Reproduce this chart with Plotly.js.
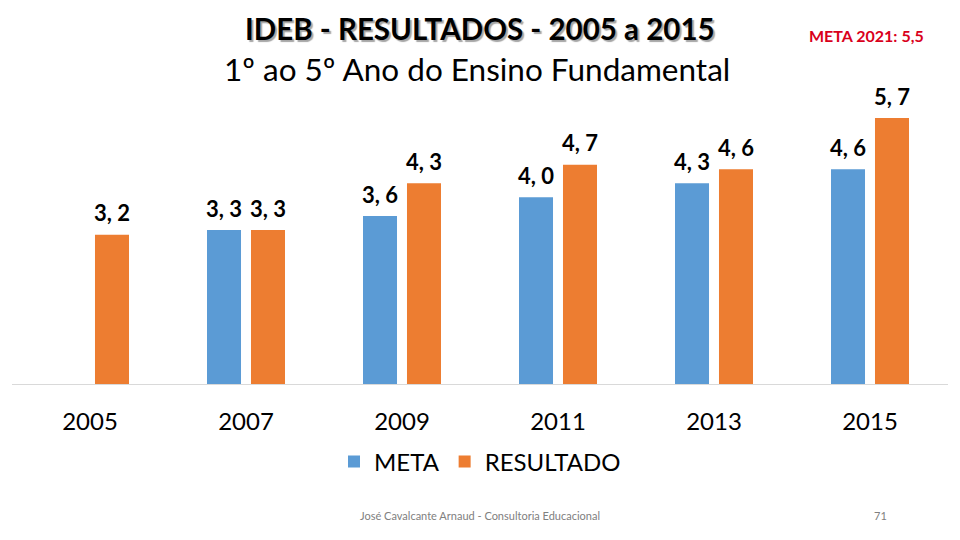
<!DOCTYPE html>
<html>
<head>
<meta charset="utf-8">
<script src="https://cdn.plot.ly/plotly-3.0.1.min.js"></script>
<style>html,body{margin:0;padding:0;background:#fff;}#chart{width:960px;height:540px;}</style>
</head>
<body>
<div id="chart"></div>
<script>
const years = ['2005', '2007', '2009', '2011', '2013', '2015'];
const meta = [null, 3.3, 3.6, 4.0, 4.3, 4.6];
const resultado = [3.2, 3.3, 4.3, 4.7, 4.6, 5.7];
const seriesNames = ['META', 'RESULTADO'];
const titleText = 'IDEB - RESULTADOS - 2005 a 2015';
const subtitleText = '1º ao 5º Ano do Ensino Fundamental';
const noteText = 'META 2021: 5,5';
const footerText = 'José Cavalcante Arnaud - Consultoria Educacional';
const pageText = '71';

const BLUE = '#5B9BD5', ORANGE = '#ED7D31';
const FONT = 'Lato, "Open Sans", sans-serif';
const fmt = v => v.toFixed(1).replace('.', ', ');

const M = {l: 12, r: 12, t: 104, b: 156};
const W = 960, H = 540;
const pw = W - M.l - M.r, ph = H - M.t - M.b;
const toX = px => (px - M.l) / pw;
const toY = py => 1 - (py - M.t) / ph;

const traces = [
  {type: 'bar', name: seriesNames[0], x: years, y: meta, marker: {color: BLUE}, hoverinfo: 'none'},
  {type: 'bar', name: seriesNames[1], x: years, y: resultado, marker: {color: ORANGE}, hoverinfo: 'none'}
];

const annotations = [];
function addLabels(vals, shift) {
  vals.forEach((v, i) => {
    if (v === null) return;
    annotations.push({x: i, y: v, xref: 'x', yref: 'y', text: '<b>' + fmt(v) + '</b>',
      showarrow: false, xshift: shift, yshift: 22, yanchor: 'middle',
      font: {family: FONT, size: 22, color: '#000'}});
  });
}
addLabels(meta, -22);
addLabels(resultado, 22);

function paperText(text, px, py, font) {
  annotations.push({xref: 'paper', yref: 'paper', x: toX(px), y: toY(py), text: text, showarrow: false,
    xanchor: 'center', yanchor: 'middle', font: Object.assign({family: FONT}, font)});
}
paperText('<b>' + titleText + '</b>', 480, 28.5, {size: 29.5, color: '#000', shadow: '2px 2px 1px #a6a6a6'});
paperText(subtitleText, 477, 69, {size: 31.5, color: '#000'});
paperText('<b>' + noteText + '</b>', 866, 35, {size: 16, color: '#D9001B'});
paperText(footerText, 480, 515, {size: 11, color: '#808080'});
paperText(pageText, 880, 515, {size: 11, color: '#808080'});

const layout = {
  width: W, height: H,
  margin: M,
  paper_bgcolor: '#fff', plot_bgcolor: '#fff',
  barmode: 'group', bargap: 0.436, bargroupgap: 0.227,
  showlegend: true,
  legend: {orientation: 'h', x: 0.5, xanchor: 'center', y: toY(462), yanchor: 'middle',
    font: {family: FONT, size: 24, color: '#000'}},
  xaxis: {type: 'category', showline: true, linecolor: '#d9d9d9', linewidth: 1, ticks: '',
    ticklabelstandoff: 16,
    tickfont: {family: FONT, size: 24, color: '#000'}, showgrid: false, zeroline: false, fixedrange: true},
  yaxis: {range: [0, 6], visible: false, showgrid: false, zeroline: false, fixedrange: true},
  annotations: annotations
};

Plotly.newPlot('chart', traces, layout, {staticPlot: true});
</script>
</body>
</html>
